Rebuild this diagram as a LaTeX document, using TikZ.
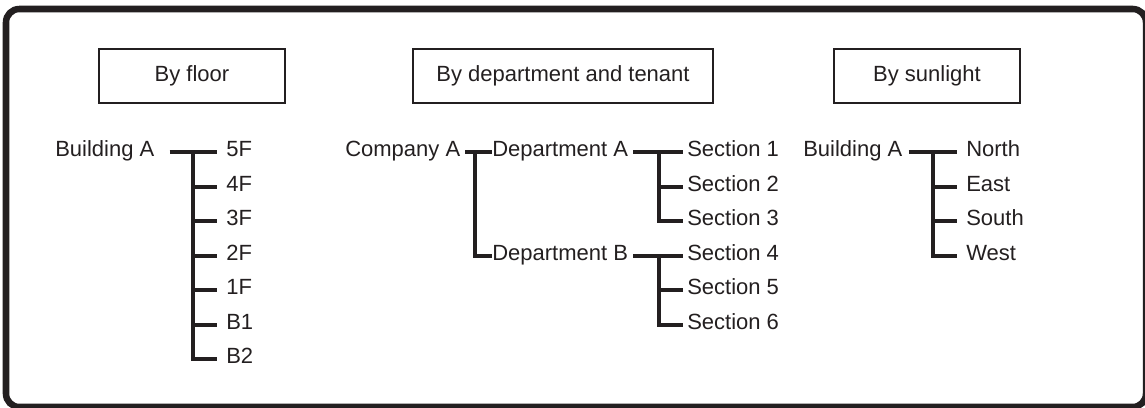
\documentclass[tikz,border=0pt]{standalone}
\usepackage{fontspec}
\setmainfont{Liberation Sans}
\usetikzlibrary{calc}
\definecolor{inkgray}{RGB}{35,31,32}

\begin{document}
\begin{tikzpicture}[
  x=0.75pt, y=-0.75pt,
  every node/.style={font=\fontsize{16.5}{20}\selectfont, text=inkgray},
  item/.style={anchor=west, inner sep=0pt, text height=0.716em, text depth=0pt},
  header/.style={draw=inkgray, line width=1.5pt, minimum height=40.5pt, inner sep=0pt},
  branch/.style={draw=inkgray, line width=3pt, line join=miter},
]
\useasboundingbox (0,0) rectangle (1145,407);
% Frame
\draw[inkgray, line width=4.9pt, rounded corners=10pt] (6,9) rectangle (1146,407);

% Headers
\node[header, minimum width=139.5pt] (hfloor) at (192,76) {By floor};
\node[header, minimum width=225pt] (hdept) at (563,76) {By department and tenant};
\node[header, minimum width=139.5pt] (hsun) at (927,76) {By sunlight};

% Nodes: by floor
\node[item] (bldgF) at (55,152) {Building A};
\node[item] (f5) at (226,152) {5F};
\node[item] (f4) at (226,186.5) {4F};
\node[item] (f3) at (226,221) {3F};
\node[item] (f2) at (226,255.5) {2F};
\node[item] (f1) at (226,290) {1F};
\node[item] (b1) at (226,324.5) {B1};
\node[item] (b2) at (226,359) {B2};
\coordinate (jfloor) at (193,152);

% Nodes: by department and tenant
\node[item] (compA) at (345,152) {Company A};
\node[item] (deptA) at (492,152) {Department A};
\node[item] (deptB) at (492,255.5) {Department B};
\node[item] (sec1) at (687,152) {Section 1};
\node[item] (sec2) at (687,186.5) {Section 2};
\node[item] (sec3) at (687,221) {Section 3};
\node[item] (sec4) at (687,255.5) {Section 4};
\node[item] (sec5) at (687,290) {Section 5};
\node[item] (sec6) at (687,324.5) {Section 6};
\coordinate (jcomp) at (475,152);
\coordinate (jdeptA) at (659,152);
\coordinate (jdeptB) at (659,255.5);

% Nodes: by sunlight
\node[item] (bldgS) at (803,152) {Building A};
\node[item] (north) at (966,152) {North};
\node[item] (east) at (966,186.5) {East};
\node[item] (south) at (966,221) {South};
\node[item] (west) at (966,255.5) {West};
\coordinate (jsun) at (933,152);

% Branches: by floor
\draw[branch] ($(bldgF.east)+(15,0)$) -- ($(f5.west)+(-9,0)$);
\draw[branch] (jfloor) |- ($(b2.west)+(-9,0)$);
\draw[branch] (jfloor |- f4) -- ($(f4.west)+(-9,0)$);
\draw[branch] (jfloor |- f3) -- ($(f3.west)+(-9,0)$);
\draw[branch] (jfloor |- f2) -- ($(f2.west)+(-9,0)$);
\draw[branch] (jfloor |- f1) -- ($(f1.west)+(-9,0)$);
\draw[branch] (jfloor |- b1) -- ($(b1.west)+(-9,0)$);

% Branches: by department and tenant
\draw[branch] ($(compA.east)+(5,0)$) -- (deptA.west);
\draw[branch] (jcomp) |- (deptB.west);
\draw[branch] ($(deptA.east)+(5,0)$) -- ($(sec1.west)+(-4,0)$);
\draw[branch] (jdeptA) |- ($(sec3.west)+(-4,0)$);
\draw[branch] (jdeptA |- sec2) -- ($(sec2.west)+(-4,0)$);
\draw[branch] ($(deptB.east)+(5,0)$) -- ($(sec4.west)+(-4,0)$);
\draw[branch] (jdeptB) |- ($(sec6.west)+(-4,0)$);
\draw[branch] (jdeptB |- sec5) -- ($(sec5.west)+(-4,0)$);

% Branches: by sunlight
\draw[branch] ($(bldgS.east)+(6,0)$) -- ($(north.west)+(-9,0)$);
\draw[branch] (jsun) |- ($(west.west)+(-9,0)$);
\draw[branch] (jsun |- east) -- ($(east.west)+(-9,0)$);
\draw[branch] (jsun |- south) -- ($(south.west)+(-9,0)$);
\end{tikzpicture}
\end{document}
